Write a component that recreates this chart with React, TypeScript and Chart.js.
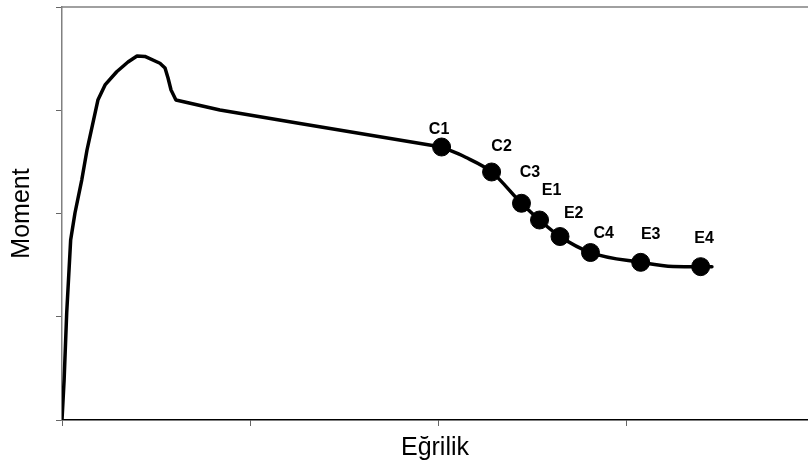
import React, { useEffect, useRef } from "react";
import { Chart, registerables } from "chart.js";

Chart.register(...registerables);

// Moment–curvature curve, rising branch up to C1 (arbitrary units)
const riseX = [0, 0.0112, 0.025, 0.046, 0.069, 0.105, 0.133, 0.191, 0.229, 0.291, 0.351, 0.399, 0.441, 0.521, 0.548, 0.564, 0.58, 0.606, 0.84, 1.266, 2.019];
const riseY = [0, 0.387, 1.036, 1.743, 2.005, 2.324, 2.615, 3.099, 3.245, 3.373, 3.467, 3.525, 3.521, 3.455, 3.409, 3.312, 3.196, 3.099, 3.002, 2.872, 2.644];

// Softening branch from C1 onwards
const softX = [2.019, 2.144, 2.285, 2.444, 2.54, 2.649, 2.811, 3.078, 3.25, 3.397, 3.457];
const softY = [2.644, 2.547, 2.402, 2.099, 1.937, 1.777, 1.622, 1.527, 1.487, 1.485, 1.485];

// Marked states
const markerLabels = ["C1", "C2", "C3", "E1", "E2", "C4", "E3", "E4"];
const markerX = [2.019, 2.285, 2.444, 2.54, 2.649, 2.811, 3.078, 3.397];
const markerY = [2.644, 2.402, 2.099, 1.937, 1.777, 1.622, 1.527, 1.485];

// Label placement nudges (pixels, relative to marker)
const labelDx = [-2.5, 10, 8.5, 12, 13.7, 13.2, 10, 3.5];
const labelDy = [-18.7, -27, -31.6, -30.7, -23.8, -19.8, -29, -29.4];

const X_MIN = 0;
const X_MAX = 3.968;
const Y_MIN = 0;
const Y_MAX = 4;

const xTitle = "Eğrilik";
const yTitle = "Moment";

const FONT = "'Liberation Sans', Arial, sans-serif";

export default function App() {
  const ref = useRef<HTMLCanvasElement | null>(null);

  useEffect(() => {
    if (!ref.current) return;

    const labelPlugin = {
      id: "markerLabels",
      afterDatasetsDraw(chart: any) {
        const { ctx, chartArea } = chart;
        // top frame line
        ctx.save();
        ctx.strokeStyle = "#808080";
        ctx.lineWidth = 1.5;
        ctx.beginPath();
        ctx.moveTo(chartArea.left, chartArea.top);
        ctx.lineTo(chartArea.right, chartArea.top);
        ctx.stroke();
        ctx.restore();

        const meta = chart.getDatasetMeta(2);
        ctx.save();
        ctx.font = `bold 16px ${FONT}`;
        ctx.fillStyle = "#000";
        ctx.textAlign = "center";
        ctx.textBaseline = "alphabetic";
        meta.data.forEach((pt: any, i: number) => {
          ctx.fillText(markerLabels[i], pt.x + labelDx[i], pt.y + labelDy[i] + 5.7);
        });
        ctx.restore();
      },
    };

    const lineStyle = {
      showLine: true,
      borderColor: "#000",
      borderWidth: 3.5,
      pointRadius: 0,
      borderCapStyle: "round",
      borderJoinStyle: "round",
    };

    const chart = new Chart(ref.current, {
      type: "scatter",
      data: {
        datasets: [
          {
            label: "rise",
            data: riseX.map((x, i) => ({ x, y: riseY[i] })),
            ...lineStyle,
            tension: 0,
          },
          {
            label: "soft",
            data: softX.map((x, i) => ({ x, y: softY[i] })),
            ...lineStyle,
            cubicInterpolationMode: "monotone",
          },
          {
            label: "states",
            data: markerX.map((x, i) => ({ x, y: markerY[i] })),
            showLine: false,
            pointRadius: 9,
            pointBorderWidth: 1,
            backgroundColor: "#000",
            borderColor: "#000",
          },
        ],
      },
      options: {
        responsive: false,
        animation: false,
        devicePixelRatio: 1,
        layout: { padding: { top: 7, right: 0, bottom: 0, left: 0 }, autoPadding: false },
        plugins: {
          legend: { display: false },
          tooltip: { enabled: false },
        },
        scales: {
          x: {
            type: "linear",
            min: X_MIN,
            max: X_MAX,
            ticks: { stepSize: 1, display: false, includeBounds: false },
            grid: { drawOnChartArea: false, drawTicks: true, tickLength: 6, color: "#666", lineWidth: 1 },
            border: { color: "#000", width: 1.5 },
            title: {
              display: true,
              text: xTitle,
              color: "#000",
              font: { family: FONT, size: 25, weight: "normal" },
              padding: { top: 0, bottom: 2 },
            },
            afterFit(scale: any) {
              scale.height = 45;
            },
          },
          y: {
            type: "linear",
            min: Y_MIN,
            max: Y_MAX,
            ticks: { stepSize: 1, display: false },
            grid: { drawOnChartArea: false, drawTicks: true, tickLength: 6, color: "#666", lineWidth: 1 },
            border: { color: "#808080", width: 1.5 },
            title: {
              display: true,
              text: yTitle,
              color: "#000",
              font: { family: FONT, size: 25, weight: "normal" },
              padding: { top: 7, bottom: 0 },
            },
            afterFit(scale: any) {
              scale.width = 62;
            },
          },
        },
      },
      plugins: [labelPlugin],
    } as any);

    return () => chart.destroy();
  }, []);

  return (
    <div style={{ position: "absolute", left: 0, top: 0, width: 808, height: 465, background: "#fff" }}>
      <canvas ref={ref} width={808} height={465} style={{ display: "block" }} />
    </div>
  );
}
